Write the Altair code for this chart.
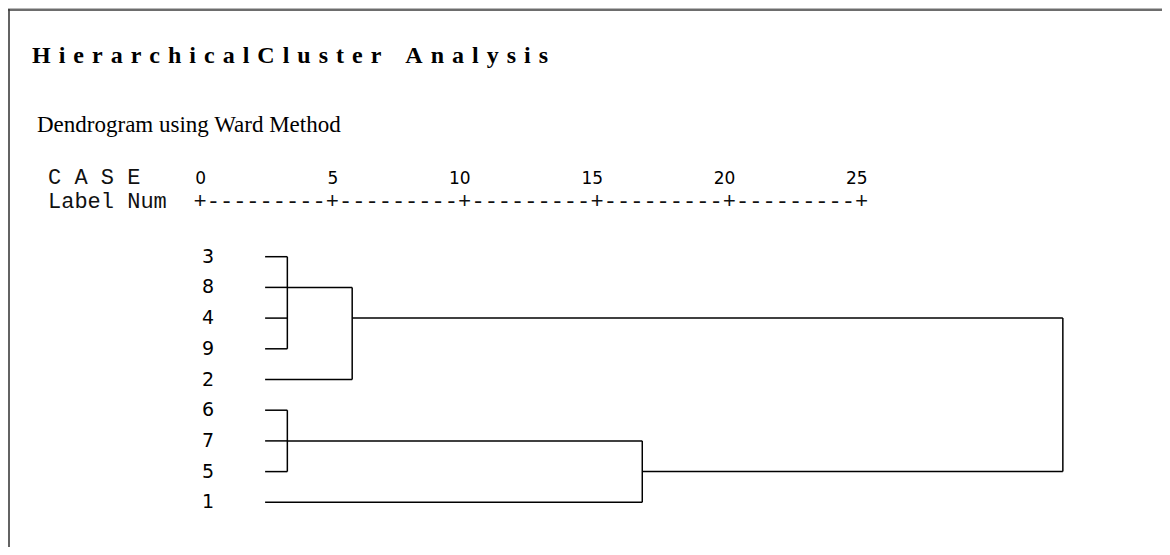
import math
import altair as alt
import pandas as pd

# ---------------- data ----------------
title_words = ["HierarchicalCluster", "Analysis"]
subtitle_text = "Dendrogram using Ward Method"
case_header = "C A S E"
label_header = "Label Num"
tick_values = [0, 5, 10, 15, 20, 25]
leaf_order = ["3", "8", "4", "9", "2", "6", "7", "5", "1"]
leaf_start = 2.46                      # rescaled distance where leaf lines begin
merge_names = ["A", "B", "C", "D", "R"]
merge_children = [["3", "8", "4", "9"], ["A", "2"], ["6", "7", "5"], ["C", "1"], ["B", "D"]]
merge_heights = [3.30, 5.75, 3.30, 16.71, 32.60]

# ---------------- geometry / scales ----------------
W, H = 1154, 539
x_scale = alt.Scale(domain=[-7.254, 36.346], nice=False, zero=False)
y_scale = alt.Scale(domain=[-8.101, 9.456], nice=False, zero=False, reverse=True)

# ---------------- build dendrogram segments ----------------
nodes = {}
for i, leaf in enumerate(leaf_order):
    nodes[leaf] = {"row": i, "x": leaf_start}
segs = []
for name, children, h in zip(merge_names, merge_children, merge_heights):
    rows = [nodes[c]["row"] for c in children]
    for c in children:
        segs.append({"x": nodes[c]["x"], "x2": h, "y": nodes[c]["row"], "y2": nodes[c]["row"]})
    segs.append({"x": h, "x2": h, "y": min(rows), "y2": max(rows)})
    nodes[name] = {"row": math.floor((min(rows) + max(rows)) / 2), "x": h}
seg_df = pd.DataFrame(segs)

leaf_df = pd.DataFrame({"leaf": leaf_order, "row": list(range(len(leaf_order)))})
tick_df = pd.DataFrame({"v": tick_values, "label": [str(v) for v in tick_values]})
dash_df = pd.DataFrame({"m": [(a + b) / 2 for a, b in zip(tick_values[:-1], tick_values[1:])]})
one = pd.DataFrame({"k": [0]})

SP = "\u2004"
title_text = (SP * 3).join(SP.join(list(w)) for w in title_words)

MONO = "Liberation Mono"
SANS = "DejaVu Sans"
SERIF = "Liberation Serif"

frame_top_light = alt.Chart(one).mark_rule(color="#b8b8b8", strokeWidth=1).encode(
    x=alt.value(0), x2=alt.value(W), y=alt.value(0.5))
frame_top = alt.Chart(one).mark_rule(color="#3c3c3c", strokeWidth=1.6).encode(
    x=alt.value(0), x2=alt.value(W), y=alt.value(2))
frame_left = alt.Chart(one).mark_rule(color="#3c3c3c", strokeWidth=1.6).encode(
    x=alt.value(1), y=alt.value(1), y2=alt.value(H))

title = alt.Chart(one).mark_text(
    text=title_text, font=SERIF, fontSize=24, fontWeight="bold", align="left",
    baseline="alphabetic", color="#000000").encode(x=alt.value(24), y=alt.value(55))
subtitle = alt.Chart(one).mark_text(
    text=subtitle_text, font=SERIF, fontSize=23, align="left",
    baseline="alphabetic", color="#000000").encode(x=alt.value(29), y=alt.value(124))
case_txt = alt.Chart(one).mark_text(
    text=case_header, font=MONO, fontSize=22, align="left",
    baseline="alphabetic", color="#111111").encode(x=alt.value(40), y=alt.value(176))
label_txt = alt.Chart(one).mark_text(
    text=label_header, font=MONO, fontSize=22, align="left",
    baseline="alphabetic", color="#111111").encode(x=alt.value(40), y=alt.value(200))

tick_labels = alt.Chart(tick_df).mark_text(
    font=SANS, fontSize=17, align="right", dx=6, baseline="alphabetic", color="#000000"
).encode(x=alt.X("v:Q", scale=x_scale, axis=None), y=alt.value(176), text="label:N")
plus = alt.Chart(tick_df).mark_text(
    text="+", font=MONO, fontSize=22, align="center", baseline="alphabetic", color="#111111"
).encode(x=alt.X("v:Q", scale=x_scale, axis=None), y=alt.value(200))
dashes = alt.Chart(dash_df).mark_text(
    text="-" * 9, font=MONO, fontSize=22, align="center", baseline="alphabetic", color="#111111"
).encode(x=alt.X("m:Q", scale=x_scale, axis=None), y=alt.value(200))

leaf_labels = alt.Chart(leaf_df).mark_text(
    font=SANS, fontSize=19, align="center", baseline="middle", color="#000000"
).encode(x=alt.value(200), y=alt.Y("row:Q", scale=y_scale, axis=None), text="leaf:N")

lines = alt.Chart(seg_df).mark_rule(color="#000000", strokeWidth=1.5).encode(
    x=alt.X("x:Q", scale=x_scale, axis=None), x2="x2:Q",
    y=alt.Y("y:Q", scale=y_scale, axis=None), y2="y2:Q")

chart = alt.layer(
    frame_top_light, frame_top, frame_left, title, subtitle, case_txt, label_txt,
    tick_labels, plus, dashes, leaf_labels, lines
).properties(width=W, height=H, padding=0, autosize="none").configure_view(stroke=None)

chart.save("out.html", embed_options={"renderer": "svg", "actions": False})
